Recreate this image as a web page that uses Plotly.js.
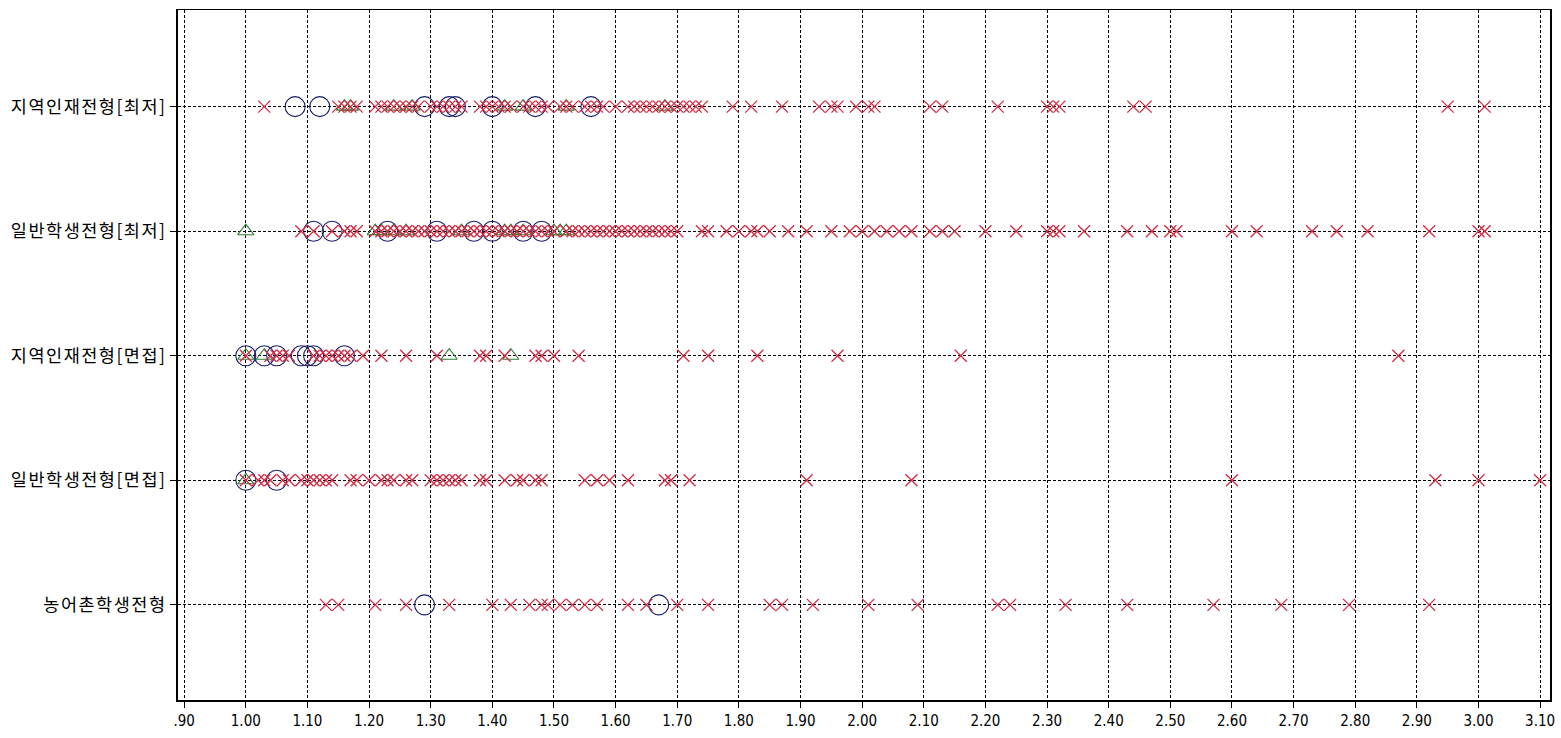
<!DOCTYPE html>
<html><head><meta charset="utf-8">
<script src="https://cdn.plot.ly/plotly-3.0.1.min.js"></script>
<style>html,body{margin:0;padding:0;background:#fff}#chart{width:1561px;height:738px}
.ytick text{letter-spacing:1.5px}</style>
</head><body><div id="chart"></div>
<script>
// categories, bottom to top
const categories = ["농어촌학생전형", "일반학생전형[면접]", "지역인재전형[면접]", "일반학생전형[최저]", "지역인재전형[최저]"];

// x tick labels
const tickValues = [0.9,1.0,1.1,1.2,1.3,1.4,1.5,1.6,1.7,1.8,1.9,2.0,2.1,2.2,2.3,2.4,2.5,2.6,2.7,2.8,2.9,3.0,3.1];
const tickLabels = [".90","1.00","1.10","1.20","1.30","1.40","1.50","1.60","1.70","1.80","1.90","2.00","2.10","2.20","2.30","2.40","2.50","2.60","2.70","2.80","2.90","3.00","3.10"];

// circle series (navy), per category
const circleRuralValues   = [1.29, 1.67];
const circleGenIntValues  = [1.00, 1.05];
const circleRegIntValues  = [1.00, 1.03, 1.05, 1.09, 1.10, 1.11, 1.16];
const circleGenMinValues  = [1.11, 1.14, 1.23, 1.31, 1.37, 1.40, 1.45, 1.48];
const circleRegMinValues  = [1.08, 1.12, 1.29, 1.33, 1.34, 1.40, 1.47, 1.56];

// triangle series (green), per category
const triRuralValues  = [];
const triGenIntValues = [1.00];
const triRegIntValues = [1.00, 1.03, 1.33, 1.43];
const triGenMinValues = [1.00, 1.21, 1.22, 1.24, 1.26, 1.35, 1.42, 1.43, 1.45, 1.50, 1.51, 1.52];
const triRegMinValues = [1.16, 1.17, 1.24, 1.27, 1.42, 1.45, 1.52, 1.68];

// cross series (red), per category
const crossRuralValues = [1.13, 1.15, 1.21, 1.26, 1.33, 1.40, 1.43, 1.46, 1.48, 1.49, 1.51, 1.53, 1.55, 1.57, 1.62, 1.65, 1.70, 1.75,
  1.85, 1.87, 1.92, 2.01, 2.09, 2.22, 2.24, 2.33, 2.43, 2.57, 2.68, 2.79, 2.92];
const crossGenIntValues = [1.00, 1.02, 1.03, 1.04, 1.06, 1.07, 1.09, 1.10, 1.11, 1.12, 1.13, 1.14, 1.17, 1.18, 1.20, 1.22, 1.23, 1.24,
  1.26, 1.27, 1.30, 1.31, 1.32, 1.33, 1.34, 1.35, 1.38, 1.39, 1.42, 1.44, 1.45, 1.47, 1.48,
  1.55, 1.57, 1.59, 1.62, 1.68, 1.69, 1.72, 1.91, 2.08, 2.60, 2.93, 3.00, 3.10];
const crossRegIntValues = [1.00, 1.04, 1.05, 1.06, 1.07, 1.11, 1.12, 1.13, 1.14, 1.15, 1.16, 1.17, 1.19, 1.22, 1.26, 1.31,
  1.38, 1.39, 1.42, 1.47, 1.48, 1.50, 1.54, 1.71, 1.75, 1.83, 1.96, 2.16, 2.87];
const crossGenMinValues = [1.09, 1.11, 1.14, 1.16, 1.17, 1.18, 1.21, 1.22, 1.23, 1.24, 1.25, 1.26, 1.27, 1.28, 1.29, 1.30, 1.31, 1.32,
  1.33, 1.34, 1.35, 1.36, 1.37, 1.38, 1.39, 1.40, 1.41, 1.42, 1.43, 1.44, 1.45, 1.46, 1.47, 1.48, 1.49, 1.50, 1.52, 1.53, 1.54,
  1.55, 1.56, 1.57, 1.58, 1.59, 1.60, 1.61, 1.62, 1.63, 1.64, 1.65, 1.66, 1.67, 1.68, 1.69, 1.70,
  1.74, 1.75, 1.78, 1.80, 1.82, 1.83, 1.85, 1.88, 1.91, 1.95, 1.98, 2.00, 2.02, 2.04, 2.06, 2.08, 2.11, 2.13, 2.15,
  2.20, 2.25, 2.30, 2.31, 2.32, 2.36, 2.43, 2.47, 2.50, 2.51, 2.60, 2.64, 2.73, 2.77, 2.82, 2.92, 3.00, 3.01];
const crossRegMinValues = [1.03, 1.15, 1.16, 1.17, 1.18, 1.21, 1.22, 1.23, 1.24, 1.25, 1.26, 1.27, 1.28, 1.30, 1.31, 1.32, 1.33, 1.34,
  1.35, 1.38, 1.39, 1.40, 1.41, 1.42, 1.43, 1.45, 1.46, 1.47, 1.48, 1.49, 1.51, 1.52, 1.53, 1.55, 1.56, 1.57, 1.58, 1.60,
  1.62, 1.63, 1.64, 1.65, 1.66, 1.67, 1.68, 1.69, 1.70, 1.71, 1.72, 1.73, 1.74, 1.79, 1.82, 1.87, 1.93, 1.95, 1.96, 1.99,
  2.01, 2.02, 2.11, 2.13, 2.22, 2.30, 2.31, 2.32, 2.44, 2.46, 2.95, 3.01];

function build(lists) {
  const xs = [], ys = [];
  lists.forEach((vals, i) => { vals.forEach(v => { xs.push(v); ys.push(categories[i]); }); });
  return {x: xs, y: ys};
}

const circles = build([circleRuralValues, circleGenIntValues, circleRegIntValues, circleGenMinValues, circleRegMinValues]);
const triangles = build([triRuralValues, triGenIntValues, triRegIntValues, triGenMinValues, triRegMinValues]);
const crosses = build([crossRuralValues, crossGenIntValues, crossRegIntValues, crossGenMinValues, crossRegMinValues]);

const traces = [
  {type: 'scatter', mode: 'markers', x: circles.x, y: circles.y, name: 'circle',
   marker: {symbol: 'circle-open', size: 20, color: '#1b1f6b', line: {width: 1.1}}},
  {type: 'scatter', mode: 'markers', x: triangles.x, y: triangles.y, name: 'triangle',
   marker: {symbol: 'triangle-up-open', size: 14, color: '#2e7d3a', line: {width: 1.1}}},
  {type: 'scatter', mode: 'markers', x: crosses.x, y: crosses.y, name: 'cross',
   marker: {symbol: 'x-thin-open', size: 12, color: '#d42a42', line: {width: 1.3}}}
];

const layout = {
  width: 1561, height: 738,
  margin: {l: 178, r: 11, t: 10, b: 38},
  paper_bgcolor: '#ffffff', plot_bgcolor: '#ffffff',
  showlegend: false,
  font: {family: 'Liberation Sans, Arial, sans-serif', color: '#000'},
  xaxis: {
    range: [0.890, 3.116], tickvals: tickValues, ticktext: tickLabels,
    showgrid: true, gridcolor: '#000', gridwidth: 1, griddash: '3px,2px',
    zeroline: false, showline: true, linecolor: '#000', linewidth: 1.5, mirror: true,
    ticks: 'outside', ticklen: 6, tickcolor: '#000',
    tickfont: {family: 'Liberation Sans Narrow, DejaVu Sans Condensed, sans-serif', size: 15, color: '#000'}
  },
  yaxis: {
    type: 'category', categoryorder: 'array', categoryarray: categories,
    range: [-0.764, 4.776],
    showgrid: true, gridcolor: '#000', gridwidth: 1, griddash: '3px,2px',
    zeroline: false, showline: true, linecolor: '#000', linewidth: 2, mirror: true,
    ticks: 'outside', ticklen: 6, tickcolor: '#000',
    tickfont: {family: 'Noto Sans CJK KR, sans-serif', size: 17.5, color: '#000'}
  }
};

Plotly.newPlot('chart', traces, layout, {displayModeBar: false, staticPlot: true});
</script>
</body></html>
